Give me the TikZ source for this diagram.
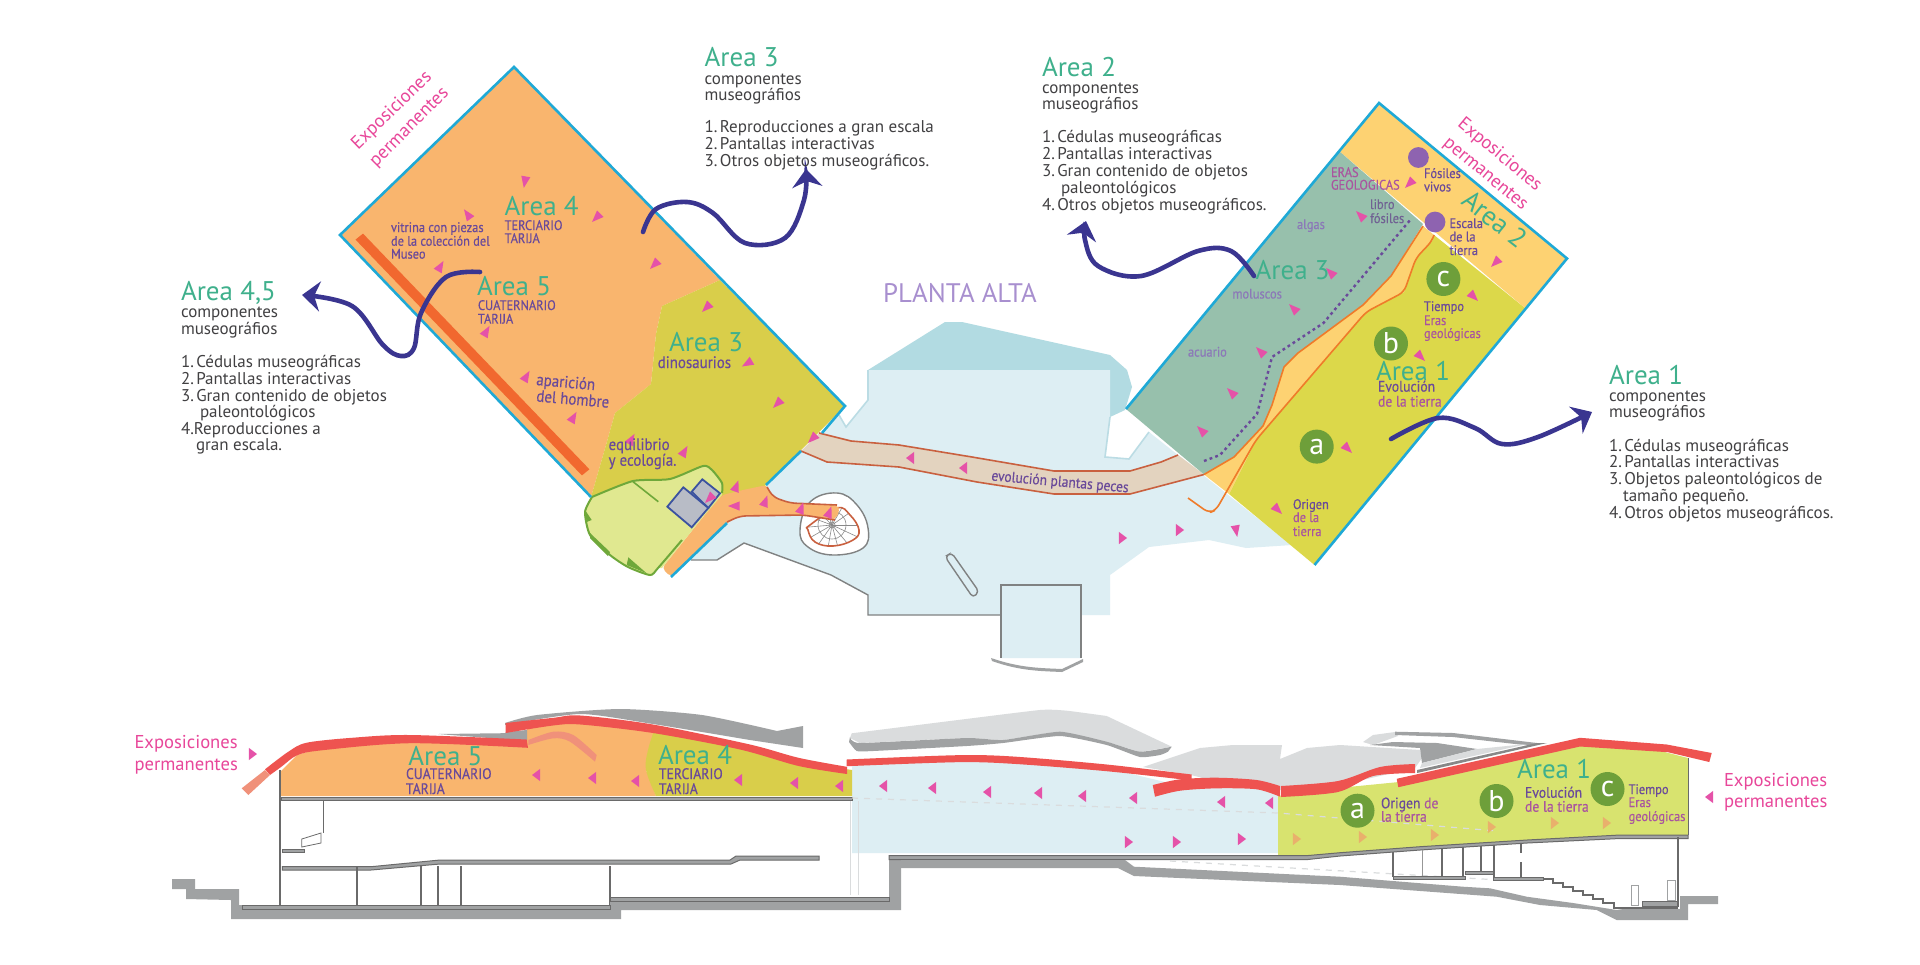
\documentclass[tikz,border=0pt]{standalone}
\usepackage{fontspec}
\setmainfont{PT Sans}
\newfontfamily\nb[FakeStretch=.9,FakeBold=.4]{PT Sans}
\usetikzlibrary{arrows.meta}
\definecolor{teal1}{HTML}{3FB08C}
\definecolor{dk}{HTML}{414042}
\definecolor{pk}{HTML}{E8479A}
\definecolor{pu}{HTML}{6A4A9A}
\definecolor{li}{HTML}{8C78B8}
\definecolor{li2}{HTML}{A88FCF}
\definecolor{mg}{HTML}{A9559F}
\definecolor{tri}{HTML}{E552A8}
\definecolor{tan1}{HTML}{E9B06C}
\definecolor{cy}{HTML}{1FA9D6}
\definecolor{org}{HTML}{F9B56E}
\definecolor{oli}{HTML}{D9CE4A}
\definecolor{yor}{HTML}{FDD272}
\definecolor{tl}{HTML}{97C0AC}
\definecolor{yel}{HTML}{DCD84A}
\definecolor{ln}{HTML}{EF7B2A}
\definecolor{flo}{HTML}{DDEEF3}
\definecolor{flo2}{HTML}{B2DBE2}
\definecolor{flo3}{HTML}{BBDCE4}
\definecolor{bnd}{HTML}{E3D3BF}
\definecolor{brn}{HTML}{C9603F}
\definecolor{bar}{HTML}{F1682F}
\definecolor{isl}{HTML}{E0E890}
\definecolor{isg}{HTML}{6FA83A}
\definecolor{gr}{HTML}{6E9F3A}
\definecolor{vi}{HTML}{8E63B0}
\definecolor{ar}{HTML}{3A3590}
\definecolor{sq}{HTML}{B8BCC6}
\definecolor{sqb}{HTML}{3B52A0}
\definecolor{red1}{HTML}{EE5350}
\definecolor{sal}{HTML}{F0917A}
\definecolor{gl}{HTML}{DADCDD}
\definecolor{gm}{HTML}{A0A2A3}
\definecolor{gd}{HTML}{6A6A6A}
\definecolor{lg}{HTML}{D8E36F}
\newcounter{tn}
\newcommand\Tx[4][]{\stepcounter{tn}\node[txt,#1] (t\thetn) at (#2,#3) {#4};}
\newcommand\Tri[4][tri]{\fill[#1,shift={(#2,#3)}] (#4:7) -- (#4+135:6.5) -- (#4-135:6.5) -- cycle;}
\newcommand\TriS[4][tri]{\fill[#1,shift={(#2,#3)}] (#4:5) -- (#4+117:6.9) -- (#4-117:6.9) -- cycle;}
\tikzset{
 txt/.style={anchor=base west,inner sep=0pt,outer sep=0pt},
 head/.style={font=\fontsize{13.5pt}{14pt}\selectfont,text=teal1},
 body/.style={font=\fontsize{8.5pt}{9pt}\selectfont,text=dk},
 sm/.style={font=\nb\fontsize{6.9pt}{7pt}\selectfont,text=pu},
 sc/.style={font=\nb\fontsize{7.6pt}{8pt}\selectfont,text=pu},
 md/.style={font=\nb\fontsize{8.3pt}{8pt}\selectfont,text=pu},
 ex/.style={font=\fontsize{9.3pt}{10pt}\selectfont,text=pk},
 edge/.style={cy,line width=1.3pt},
 ora/.style={ln,line width=.8pt},
 arw/.style={ar,line width=2.3pt,line cap=round,-{Stealth[length=9pt,width=15pt]}},
 slab/.style={fill=gm,draw=gd,line width=.5pt},
 col/.style={gd,line width=1pt},
 gline/.style={draw=gm!80!black,line width=.7pt},
 cir/.style={circle,inner sep=0pt,minimum size=17pt,fill=gr,text=white,font=\fontsize{15pt}{15pt}\selectfont},
}
\begin{document}
\begin{tikzpicture}[x=.5pt,y=-.5pt]
\useasboundingbox (0,0) rectangle (1920,964);
\fill[white] (0,0) rectangle (1920,964);
% ---------- plan: floor
\fill[flo2] (868,370) -- (945,322) -- (962,322) -- (1110,355) -- (1127,370) -- (1132,387) -- (1125,410) -- (1110,417) -- (1110,370) -- cycle;
\fill[flo] (868,370) -- (1110,370) -- (1110,417) -- (1105,457) -- (1129,459) -- (1149,432) -- (1300,552) -- (1292,545) -- (1246,548) -- (1209,540) -- (1149,547) -- (1110,575) -- (1110,615) -- (1081,615) -- (1081,658) -- (1001,658) -- (1001,615) -- (868,615) -- (868,595) -- (831,575) -- (744,543) -- (717,560) -- (691,560) -- (671,577) -- (839,415) -- (846,427) -- (868,400) -- cycle;
\draw[flo3,line width=.8pt] (839,415) -- (846,427) -- (868,400) -- (868,370);
\draw[flo3,line width=.8pt] (1110,417) -- (1105,457) -- (1129,459) -- (1149,432);
\draw[gline] (691,560) -- (717,560) -- (744,543) -- (831,575) -- (868,595) -- (868,615) -- (1001,615);
\draw[gline] (1001,658) -- (1001,585) -- (1081,585) -- (1081,658);
\fill[gm] (991,658) .. controls (1020,668) and (1040,668) .. (1062,669) -- (1083,659) -- (1083,662) -- (1062,672) .. controls (1040,671) and (1020,671) .. (992,661) -- cycle;
\draw[gline,rounded corners=2pt] (945,556.7) -- (951.6,552.7) -- (979,591.7) -- (973,597.7) -- cycle;
% stairs
\filldraw[fill=white,gline] plot[smooth cycle,tension=.7] coordinates {(837,493) (857,505) (868,528) (863,548) (833,555) (808,547) (800,530) (810,502)};
\begin{scope}
\clip plot[smooth cycle,tension=.7] coordinates {(810,525) (837,508) (850,515) (859,530) (853,540) (833,546) (815,542) (808,530)};
\foreach \a in {0,25,...,340}{\draw[gd!80,line width=.3pt] (832,525) -- ++(\a:40);}
\foreach \r in {3,14}{\draw[gd!80,line width=.3pt] (832,525) circle[radius=\r];}
\end{scope}
\draw[brn,line width=.8pt] plot[smooth cycle,tension=.7] coordinates {(810,525) (837,508) (850,515) (859,530) (853,540) (833,546) (815,542) (808,530)};
% ---------- left rectangle
\fill[org] (514,67) -- (720,280) -- (662,306) -- (656,334) -- (651,384) -- (615,413) -- (606,445) -- (591,497) -- (340,235) -- cycle;
\fill[oli] (720,280) -- (845,406) -- (766,485) -- (720,520) -- (640,500) -- (591,497) -- (606,445) -- (615,413) -- (651,384) -- (656,334) -- (662,306) -- cycle;
\fill[bar] (355.5,239.6) -- (363,233.6) -- (589.4,469.3) -- (581.9,475.4) -- cycle;
% band
\filldraw[fill=bnd,draw=none] (819,433) -- (851,441) -- (899,445) -- (972,457) -- (1054,471) -- (1130,471) -- (1161,462) -- (1178,455) -- (1204,474.5) -- (1130,494) -- (1054,494) -- (977,482) -- (899,467) -- (827,462) -- (801,451) -- cycle;
\draw[brn,line width=.8pt] (819,433) -- (851,441) -- (899,445) -- (972,457) -- (1054,471) -- (1130,471) -- (1161,462) -- (1178,455);
\draw[brn,line width=.8pt] (1204,474.5) -- (1130,494) -- (1054,494) -- (977,482) -- (899,467) -- (827,462) -- (801,451);
% lower orange strip
\fill[org,rounded corners=2pt] (766.7,485) -- (773,497) -- (790,503) -- (837,505) -- (840,510) -- (835,520) -- (803,515) -- (740,516) -- (727,523) -- (671,577) -- (662,568) -- (703,517) -- (722,495) -- (743,490) -- cycle;
\draw[brn,line width=.8pt,rounded corners=3pt] (767,487) -- (773,497) -- (790,503) -- (837,505);
\draw[brn,line width=.8pt,rounded corners=3pt] (727,522) -- (740,516) -- (803,515) -- (835,520);
% island
\fill[isl] plot[smooth,tension=.4] coordinates {(592,497) (633,481) (670,479) (703,466) (712,470) (722,483) (722,495)} -- (703,517) -- (662,568) -- plot[smooth,tension=.4] coordinates {(658,568) (650,575) (628,567) (610,555) (590,535) (585,512) (592,497)} -- cycle;
\draw[isg,line width=1pt] plot[smooth,tension=.4] coordinates {(592,497) (633,481) (670,479) (703,466) (712,470) (722,483) (722,493)};
\draw[isg,line width=1pt] plot[smooth,tension=.4] coordinates {(682,540) (658,568) (650,575) (628,567) (610,555) (590,535) (585,512) (592,497)};
\draw[isg,line width=.8pt] (633,481.7) -- (658.3,501.7);
\fill[isg] (585,510) -- (591.7,520) -- (586.7,522) -- cycle;
\fill[isg] (590,533) -- (610,552) -- (608,556) -- (590,538) -- cycle;
\fill[isg] (628.3,557.3) -- (646.7,573.3) -- (626.7,565) -- cycle;
\filldraw[fill=sq,draw=sqb,line width=.9pt] (702.3,479.3) -- (720,493.3) -- (708.3,508) -- (691.7,491.7) -- cycle;
\filldraw[fill=sq,draw=sqb,line width=.9pt] (683.3,487.3) -- (708.3,508) -- (691.7,527.3) -- (667.3,506.7) -- cycle;
% edges left
\draw[edge,line join=miter] (591,497) -- (340,235) -- (514,67) -- (845,406) -- (822,433);
\draw[edge] (801,451) -- (766,485);
\draw[edge] (727,523) -- (671,577);
% ---------- right rectangle
\fill[yel] (1434,235) -- (1525,308) -- (1314.5,565) -- (1229,494) -- (1256,440) -- (1366,312) -- (1404,292) -- (1416,258) -- (1432,241) -- cycle;
\fill[yor] (1379,103) -- (1567,258.5) -- (1525,308) -- (1339,151) -- cycle;
\fill[tl] (1339,151) -- (1423,224) -- (1391,276) -- (1363,305) -- (1298,353) -- (1284,367) -- (1272,405) -- (1263,426) -- (1234,457) -- (1204,474.5) -- (1126,409) -- cycle;
\fill[yor] (1204,474.5) -- (1234,457) -- (1263,426) -- (1272,405) -- (1284,367) -- (1298,353) -- (1363,305) -- (1391,276) -- (1423,226) -- (1434,235) -- (1432,241) -- (1416,258) -- (1404,292) -- (1366,312) -- (1256,440) -- (1229,494) -- cycle;
\draw[ora,line join=round] (1204,474.5) -- (1234,457) -- (1263,426) -- (1272,405) -- (1284,367) -- (1298,353) -- (1363,305) -- (1391,276) -- (1423,226);
\draw[ora,line join=round,rounded corners=3pt] (1188,498) -- (1209,513) -- (1216,510) -- (1256,440) -- (1366,312) -- (1404,292) -- (1416,258) -- (1432,241) -- (1434,235);
\draw[pu,line width=1.2pt,dash pattern=on 1.4pt off 1.6pt] (1204,461) -- (1220,455) -- (1257,414) -- (1272,357) -- (1323.5,323) -- (1411,219);
\draw[edge,line join=miter] (1126,409) -- (1379,103) -- (1567,258.5) -- (1314.5,565);
\fill[vi] (1418.4,157.5) circle[radius=10.4];
\fill[vi] (1435,222) circle[radius=10.4];
\node[cir] (ca) at (1316.7,446.6) {a};
\node[cir] (cb) at (1391,343.5) {b};
\node[cir] (cc) at (1443.4,279) {c};
% ---------- plan triangles
\Tri{525}{181}{100}\Tri{468}{215}{235}\Tri{597}{217}{135}\Tri{655}{264}{135}\Tri{440}{267}{300}\Tri{486}{332}{300}
\Tri{707}{307}{135}\Tri{748}{363}{150}\Tri{526}{377}{300}\Tri{573}{418}{300}\Tri{778}{403}{135}\Tri{631}{440}{300}
\Tri{684}{452}{300}\Tri{813}{438}{135}\Tri{736}{487}{290}\Tri{710}{498}{135}\Tri{735}{506}{180}\Tri{765}{502}{290}\Tri{801}{509}{290}\Tri{829}{513}{290}
\Tri{1410}{183}{135}\Tri{1361}{216}{225}\Tri{1331}{273}{225}\Tri{1294}{309}{225}\Tri{1261}{352}{225}\Tri{1232}{393}{225}\Tri{1202}{431}{225}
\Tri{1496}{262}{135}\Tri{1473}{296}{45}\Tri{1420}{356}{45}\Tri{1347}{448}{45}\Tri{1277}{509}{45}\Tri{1236}{530}{80}
\TriS{1179}{530}{0}\TriS{1122}{538}{0}\TriS{911}{458}{180}\TriS{964}{468}{180}
% ---------- arrows
\coordinate (a1s) at (1391,439);\coordinate (a1e) at (1592,412);
\draw[arw] plot[smooth,tension=.6] coordinates {(a1s) (1438,418) (1475,428) (1502,444) (1538,437) (a1e)};
\coordinate (a2s) at (1254,276);\coordinate (a2e) at (1086,221);
\draw[arw] plot[smooth,tension=.6] coordinates {(a2s) (1231,251) (1198,251) (1141,276) (1098,266) (1085,240) (a2e)};
\coordinate (a3s) at (643,232);\coordinate (a3e) at (806,169);
\draw[arw] plot[smooth,tension=.6] coordinates {(a3s) (656,209) (687,202) (713,213) (745,243) (785,238) (804,200) (a3e)};
\coordinate (a4s) at (480,272);\coordinate (a4e) at (302,295);
\draw[arw] plot[smooth,tension=.6] coordinates {(a4s) (446,277) (421,313) (414,348) (401,356) (383,345) (352,306) (a4e)};
% ---------- plan texts
\def\ns{\hspace{1.2pt}}
\Tx[head]{704.6}{66}{Area 3}\Tx[body]{704.6}{84}{componentes}\Tx[body]{704.6}{100}{museográfios}
\Tx[body]{704.6}{132}{1.\ns Reproducciones a gran escala}\Tx[body]{704.6}{149}{2.\ns Pantallas interactivas}\Tx[body]{704.6}{166}{3.\ns Otros objetos museográficos.}
\Tx[head]{181}{300}{Area 4,5}\Tx[body]{181}{317}{componentes}\Tx[body]{181}{334}{museográfios}
\Tx[body]{181}{367}{1.\ns Cédulas museográficas}\Tx[body]{181}{384}{2.\ns Pantallas interactivas}\Tx[body]{181}{401}{3.\ns Gran contenido de objetos}\Tx[body]{200}{417}{paleontológicos}\Tx[body]{181}{434}{4.Reproducciones a}\Tx[body]{196}{450}{gran escala.}
\Tx[head]{1042}{76}{Area 2}\Tx[body]{1042}{93}{componentes}\Tx[body]{1042}{109}{museográfios}
\Tx[body]{1042}{142}{1.\ns Cédulas museográficas}\Tx[body]{1042}{159}{2.\ns Pantallas interactivas}\Tx[body]{1042}{176}{3.\ns Gran contenido de objetos}\Tx[body]{1061}{193}{paleontológicos}\Tx[body]{1042}{210}{4.\ns Otros objetos museográficos.}
\Tx[head]{1609}{384}{Area 1}\Tx[body]{1609}{401}{componentes}\Tx[body]{1609}{417}{museográfios}
\Tx[body]{1609}{451}{1.\ns Cédulas museográficas}\Tx[body]{1609}{467}{2.\ns Pantallas interactivas}\Tx[body]{1609}{484}{3.\ns Objetos paleontológicos de}\Tx[body]{1623}{501}{tamaño pequeño.}\Tx[body]{1609}{518}{4.\ns Otros objetos museográficos.}
\Tx[font=\fontsize{13.4pt}{14pt}\selectfont,text=li2,anchor=base]{960}{302}{PLANTA ALTA}
\node[ex,rotate=44,anchor=center] (ex1) at (392,111) {Exposiciones};
\node[ex,rotate=45,anchor=center] (ex2) at (410,128) {permanentes};
\node[ex,rotate=-39.6,anchor=center] (ex3) at (1499.5,155) {Exposiciones};
\node[ex,rotate=-39.6,anchor=center] (ex4) at (1485,174.6) {permanentes};
\Tx[sm]{391}{232}{vitrina con piezas}\Tx[sm]{391}{245.7}{de la colección del}\Tx[sm]{391}{258.6}{Museo}
\Tx[head]{504.6}{215.7}{Area 4}\Tx[sm]{504.6}{230}{TERCIARIO}\Tx[sm]{504.6}{243}{TARIJA}
\Tx[head]{477}{295.7}{Area 5}\Tx[sm]{478}{310}{CUATERNARIO}\Tx[sm]{478}{323.6}{TARIJA}
\Tx[md,rotate=-5]{536}{385}{aparición}\Tx[md,rotate=-5]{536}{401.4}{del hombre}
\Tx[head]{669}{351.4}{Area 3}\Tx[md]{657.7}{368}{dinosaurios}
\Tx[md]{608.6}{450}{equilibrio}\Tx[md]{608.6}{465.7}{y ecología.}
\Tx[head]{1255.6}{279}{Area 3}
\Tx[sm,text=li]{1232.4}{298.5}{moluscos}\Tx[sm,text=li]{1188}{356.6}{acuario}\Tx[sm,text=li]{1297}{229}{algas}
\Tx[sm,text=mg]{1331}{177}{ERAS}\Tx[sm,text=mg]{1331}{189.6}{GEOLOGICAS}
\Tx[sm,text=li!80!black]{1370}{209}{libro}\Tx[sm,text=li!80!black]{1370}{223}{fósiles}
\Tx[sm]{1424}{178}{Fósiles}\Tx[sm]{1424}{191.4}{vivos}
\Tx[sm]{1449.5}{228}{Escala}\Tx[sm]{1449.5}{241.4}{de la}\Tx[sm]{1449.5}{255}{tierra}
\node[head,rotate=-38,anchor=center] (ar2) at (1495,219) {Area 2};
\Tx[sm]{1424}{311}{Tiempo}\Tx[sm,text=mg]{1424}{325}{Eras}\Tx[sm,text=mg]{1424}{338}{geológicas}
\Tx[head]{1376}{380}{Area 1}\Tx[sc]{1378}{391.6}{Evolución}\Tx[sc,text=mg]{1378}{406.6}{de la tierra}
\Tx[sm]{1293}{509}{Origen}\Tx[sm,text=mg]{1293}{522}{de la}\Tx[sm,text=mg]{1293}{536}{tierra}
\node[md,rotate=-5,anchor=center,font=\nb\fontsize{7.5pt}{7pt}\selectfont] (evo) at (1060,482.5) {evolución plantas peces};
% ---------- section: fills
\fill[flo] (852,764) -- (957,760) -- (1013,761) -- (1107,768) -- (1165,782) -- (1216,784) -- (1280,790) -- (1278,853) -- (852,853) -- cycle;
\fill[org] (281,771) -- (297,755) -- (320,748) -- (411,740) -- (527,742) -- (527,728) -- (553,722) -- (580,720) -- (655,728) -- (646,770) -- (656,796) -- (281,796) -- cycle;
\fill[oli] plot[smooth,tension=.6] coordinates {(655,728) (648,750) (646,770) (656,796)} -- (852,796) -- (852,770) -- (799,762) -- (750,747) -- cycle;
\fill[lg] (1278,796) -- (1338,788) -- (1399,782) -- (1581,742) -- (1645,747) -- (1688,758) -- (1688,835) -- (1620,835) -- (1527,840) -- (1420,847) -- (1340,853) -- (1306,856) -- (1278,856) -- cycle;
% grey shapes
\fill[gl] plot[smooth,tension=.3] coordinates {(851.7,733.3) (950,721) (1040,710) (1066.7,710.7) (1106.7,716)} -- (1171.7,746.7) -- plot[smooth,tension=.3] coordinates {(1140,752) (1106.7,742) (1060,732) (1003,740) (966.7,738) (860,743)} -- (850,738) -- cycle;
\fill[gm] plot[smooth,tension=.3] coordinates {(850,737) (860,743) (966.7,738) (1003,740) (1060,731.7) (1106.7,741.7) (1140,751.7) (1171.7,746.7)} -- plot[smooth,tension=.3] coordinates {(1168,751.7) (1160,755) (1140,757) (1106.7,745) (1060,736) (1003,743) (966.7,746) (873,751) (856.7,751) (849,742)} -- cycle;
\fill[gl] (1143,767) -- (1200,748) -- (1233,745) -- (1282,745) -- (1280,759) -- (1307,748) -- (1340,745) -- (1420,750) -- (1422,758) -- (1415,768) -- (1340,785) -- (1281,790) -- (1211,780) -- (1191,775) -- cycle;
\fill[gl] (1363,742) -- (1373,735) -- (1395,732) -- (1398,736) -- (1373,745) -- cycle;
\fill[gm] (1395,731.7) -- (1453,733) -- (1537,743) -- (1533,746) -- (1453,737) -- (1395,735) -- cycle;
\fill[gm] (1370,745) -- (1393,742) -- (1437,743) -- (1477,749) -- (1422,763) -- (1420,748) -- cycle;
\fill[gl] (1422,763) -- (1477,749) -- (1527,744) -- (1420,768) -- cycle;
\fill[gd!80] (1417,770) -- (1537,743) -- (1547,743) -- (1417,773) -- cycle;
\fill[gm] plot[smooth,tension=.4] coordinates {(505,723) (537,715) (620,709) (702,715) (777,731)} -- (803,726) -- (803,748) -- plot[smooth,tension=.4] coordinates {(750,740) (653,724) (580,714) (505,725)} -- cycle;
\fill[gm] (438,734) -- (520,733) -- (527,741) -- cycle;
\fill[gm] (505.7,732) -- (527,730) -- (527,741) -- (505.7,738) -- cycle;
% roofs
\fill[red1] plot[smooth,tension=.5] coordinates {(265,769.3) (288.3,751.7) (306.7,742.7) (353,737.7) (410,735) (526.7,739.5)} -- plot[smooth,tension=.5] coordinates {(528,747.8) (410,743.2) (320,750.5) (296.7,755.5) (281.7,766.5) (270,775)} -- cycle;
\fill[sal] (241.7,788.3) -- (265,770) -- (270,775) -- (248.3,795) -- cycle;
\fill[sal] plot[smooth,tension=.5] coordinates {(528.3,740) (553.3,731.7) (573.3,735) (596.7,755)} -- plot[smooth,tension=.5] coordinates {(595,761.7) (570,741.7) (553.3,738.3) (528.3,745)} -- cycle;
\fill[red1] plot[smooth,tension=.5] coordinates {(505.7,723) (553.3,717.8) (580.5,715.5) (653,724.5) (750,744.5) (798.6,757.8) (847,766.8)} -- plot[smooth,tension=.5] coordinates {(847,774) (798.6,766) (740,749.5) (653,733) (580.5,724.5) (553,725.5) (505.7,733)} -- cycle;
\fill[red1] plot[smooth,tension=.5] coordinates {(846.7,759.5) (956.7,755.2) (1013,756.5) (1106.7,764.5) (1191.7,774.5)} -- plot[smooth,tension=.5] coordinates {(1191.7,780.5) (1106.7,771.2) (1013,763.8) (956.7,762.2) (846.7,766.2)} -- cycle;
\fill[red1] plot[smooth,tension=.5] coordinates {(1152.7,785) (1180,779.3) (1216.7,777.7) (1256.7,780) (1280,786)} -- plot[smooth,tension=.5] coordinates {(1280,796.7) (1256.7,789.3) (1216.7,788.3) (1180,790.7) (1155,796.7)} -- cycle;
\fill[red1] plot[smooth,tension=.5] coordinates {(1281,786) (1338,781) (1380,767) (1415,764)} -- plot[smooth,tension=.5] coordinates {(1415,773) (1373,776) (1338,792) (1281,797)} -- cycle;
\fill[red1] (1396.7,778.8) -- (1580,737.8) -- (1666.7,744.5) -- (1711.7,753) -- (1709.3,762) -- (1668,752.2) -- (1580,746.5) -- (1398.3,787.2) -- cycle;
% section structure left
\draw[col] (280,770) -- (280,905);
\filldraw[slab] (281,797) rectangle (852,800.7);
\draw[gd,line width=.3pt] (323.6,801) -- (323.6,833);
\filldraw[fill=white,draw=gd,line width=.4pt] (301.8,839) -- (321,833) -- (321,843) -- (301.8,847) -- cycle;
\filldraw[slab] (282,849) rectangle (304,852.7);
\filldraw[slab] (282.4,866.7) -- (371,866.7) -- (440,860) -- (730,860) -- (736,856) -- (819,856) -- (819,860) -- (740,860) -- (731,864) -- (440,864) -- (371,870) -- (282.4,870) -- cycle;
\foreach \x in {356.5,420.5,437.5,460.7,609.5}{\draw[col] (\x,866) -- (\x,905);}
\fill[gm] (172,879) -- (195,879) -- (195,889) -- (239,889) -- (239,905) -- (610,905) -- (610,897) -- (889,897) -- (889,856) -- (901,856) -- (901,910) -- (621,910) -- (621,919) -- (231,919) -- (231,900) -- (186,899) -- (186,889) -- (172,889) -- cycle;
\filldraw[slab] (242,905) rectangle (610,909);
\filldraw[slab] (610,897) rectangle (889,901);
\draw[gl,line width=.5pt] (850,801) -- (850,895);\draw[gl,line width=.5pt] (858,801) -- (858,895);
% section structure right
\filldraw[slab] (889,855.7) -- (1306,855.7) -- (1340,852.7) -- (1420,846.7) -- (1527,840) -- (1620,835) -- (1688,835) -- (1688,838.5) -- (1620,838.5) -- (1527,843) -- (1420,850) -- (1340,856) -- (1306,859.7) -- (889,859.7) -- cycle;
\fill[gm] (901,860) -- (1125,860) -- (1134,866.7) -- (1340,876.7) -- (1463,886.7) -- (1490,888.3) -- (1526.7,896.7) -- (1573,903) -- (1616.7,910) -- (1623,909) -- (1680,909) -- (1680,896) -- (1718,896) -- (1718,904) -- (1688,904) -- (1688,920) -- (1616.7,920) -- (1596.7,910) -- (1540,905) -- (1496.7,896.7) -- (1340,885) -- (1134,876) -- (1118,868) -- (901,868) -- cycle;
\draw[gl,line width=.6pt,dashed] (852,798) -- (1278,813) -- (1498,831);
\draw[gl,line width=.6pt,dashed] (1170,861) -- (1500,880);
\foreach \x/\y/\z in {1393.3/852/877,1441.7/848/877,1463.3/847/877,1480.7/846/872,1494.3/845/877}{\draw[col] (\x,\y) -- (\x,\z);}
\draw[gd!70,line width=.6pt] (1422.7,850) -- (1422.7,877);
\draw[col] (1520.7,843) -- (1520.7,853);\draw[col] (1520.7,862) -- (1520.7,877);
\filldraw[slab] (1393.3,876.7) rectangle (1465,879.3);
\filldraw[slab] (1465,871.7) rectangle (1493.3,874.5);
\filldraw[slab] (1493.3,877.3) rectangle (1543.3,880);
\draw[gd,line width=1pt] (1543.3,879) -- (1553,879) -- (1553,883) -- (1563,883) -- (1563,887) -- (1573,887) -- (1573,891) -- (1583,891) -- (1583,895) -- (1593,895) -- (1593,899) -- (1603,899) -- (1603,903) -- (1614,903) -- (1614,908.3) -- (1678.3,908.3);
\filldraw[slab] (1642.7,901.7) rectangle (1678,906.5);
\draw[col] (1677.7,837) -- (1677.7,907);
\draw[gd,line width=.8pt] (1688.3,758) -- (1688.3,835);
\filldraw[fill=white,draw=gm,line width=.4pt] (1631.7,885) rectangle (1638.3,905);
\filldraw[fill=white,draw=gm,line width=.4pt] (1667.3,880.7) rectangle (1675,900);
% section triangles
\TriS{252}{754}{0}\TriS{537}{775}{180}\TriS{593}{778}{180}\TriS{636}{781}{180}\TriS{739}{780}{180}\TriS{795}{783}{180}\TriS{840}{786}{180}
\TriS{884}{786}{180}\TriS{933}{788}{180}\TriS{988}{792}{180}\TriS{1039}{793}{180}\TriS{1083}{796}{180}\TriS{1134}{798}{180}\TriS{1222}{802}{180}\TriS{1270}{803}{180}
\TriS{1128}{842}{0}\TriS{1176}{842}{0}\TriS{1241}{839}{0}
\TriS[tan1]{1296}{839}{0}\TriS[tan1]{1362}{837}{0}\TriS[tan1]{1434}{835}{0}\TriS[tan1]{1491}{827}{0}\TriS[tan1]{1554}{823}{0}\TriS[tan1]{1606}{823}{0}
\TriS{1710}{797}{180}
% section circles and texts
\node[cir] (sa) at (1357.5,810.7) {a};
\node[cir] (sb) at (1496.5,801) {b};
\node[cir] (sc) at (1607.5,789) {c};
\Tx[ex]{134.5}{748}{Exposiciones}\Tx[ex]{134.5}{770}{permanentes}
\Tx[head]{408.4}{765}{Area 5}\Tx[sc]{406}{779}{CUATERNARIO}\Tx[sc]{406}{794}{TARIJA}
\Tx[head]{658}{764}{Area 4}\Tx[sc]{659}{779}{TERCIARIO}\Tx[sc]{659}{794}{TARIJA}
\Tx[head]{1517}{778}{Area 1}
\Tx[sc]{1381}{808.3}{Origen \textcolor{mg}{de}}\Tx[sc,text=mg]{1381}{821.7}{la tierra}
\Tx[sc]{1525}{797.7}{Evolución}\Tx[sc,text=mg]{1525}{811.7}{de la tierra}
\Tx[sm]{1628.6}{794}{Tiempo}\Tx[sm,text=mg]{1628.6}{807}{Eras}\Tx[sm,text=mg]{1628.6}{821}{geológicas}
\Tx[ex]{1724}{786.7}{Exposiciones}\Tx[ex]{1724}{807}{permanentes}
\end{tikzpicture}
\end{document}
